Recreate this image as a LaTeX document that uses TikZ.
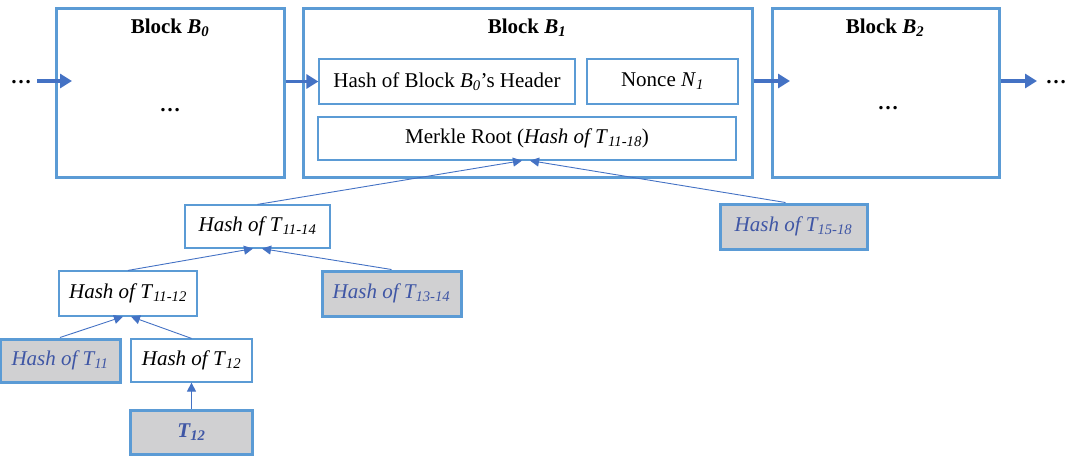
\documentclass[tikz,border=0pt]{standalone}
\usepackage{fontspec}
\setmainfont{Liberation Serif}
\usetikzlibrary{arrows.meta}
\definecolor{bordblue}{RGB}{91,155,213}
\definecolor{arrblue}{RGB}{68,114,196}
\definecolor{boxgray}{RGB}{208,208,210}
\definecolor{txtblue}{RGB}{63,86,165}
\tikzset{
  base/.style={font=\fontsize{21}{25}\selectfont, inner sep=0pt},
  blockbox/.style={base, draw=bordblue, line width=3pt},
  smallbox/.style={base, draw=bordblue, line width=1.2pt, fill=white},
  graybox/.style={base, draw=bordblue, line width=3pt, fill=boxgray, text=txtblue, font=\fontsize{21}{25}\selectfont\itshape},
  bigarrow/.style={draw=arrblue, line width=3.5pt, -{Triangle[length=12pt,width=14pt]}},
  thinarrow/.style={draw=arrblue, line width=0.9pt, -{Triangle[length=9pt,width=9pt]}},
}
\begin{document}
\begin{tikzpicture}[x=1pt,y=-1pt]
\useasboundingbox (0,0) rectangle (1065,456);
% blocks
\node[blockbox, minimum width=228pt, minimum height=169pt] (b0) at (170,92.5) {};
\node[blockbox, minimum width=449pt, minimum height=169pt] (b1) at (527.5,92.5) {};
\node[blockbox, minimum width=227pt, minimum height=169pt] (b2) at (885.5,92.5) {};
\node[base] (t0) at (170,28) {\textbf{Block \textit{B}\textsubscript{\textit{0}}}};
\node[base] (t1) at (527,28) {\textbf{Block \textit{B}\textsubscript{\textit{1}}}};
\node[base] (t2) at (885,28) {\textbf{Block \textit{B}\textsubscript{\textit{2}}}};
\node[base] (d0) at (170,110) {\textbf{\ldots}};
\node[base] (d2) at (888,108) {\textbf{\ldots}};
\node[base] (dl) at (21,82) {\textbf{\ldots}};
\node[base] (dr) at (1056,82) {\textbf{\ldots}};
% header fields
\node[smallbox, minimum width=256pt, minimum height=45pt] (hdr) at (447,81.5) {Hash of Block \textit{B}\textsubscript{\textit{0}}’s Header};
\node[smallbox, minimum width=151pt, minimum height=45pt] (nonce) at (662.5,81.5) {Nonce \textit{N}\textsubscript{\textit{1}}};
\node[smallbox, minimum width=418pt, minimum height=43pt] (mr) at (527,138.5) {Merkle Root (\textit{Hash of T}\textsubscript{\textit{11-18}})};
% tree
\node[smallbox, minimum width=145pt, minimum height=43pt] (h1114) at (257.5,226.5) {\textit{Hash of T}\textsubscript{\textit{11-14}}};
\node[graybox, minimum width=147pt, minimum height=45pt] (h1518) at (793.5,226.5) {Hash of T\textsubscript{15-18}};
\node[smallbox, minimum width=138pt, minimum height=45pt] (h1112) at (128,293.5) {\textit{Hash of T}\textsubscript{\textit{11-12}}};
\node[graybox, minimum width=139pt, minimum height=45pt] (h1314) at (391.5,293.5) {Hash of T\textsubscript{13-14}};
\node[graybox, minimum width=120pt, minimum height=43pt] (h11) at (60,360.5) {Hash of T\textsubscript{11}};
\node[smallbox, minimum width=121pt, minimum height=43pt] (h12) at (191.5,360.5) {\textit{Hash of T}\textsubscript{\textit{12}}};
\node[graybox, minimum width=122pt, minimum height=44pt] (t12) at (191.5,432) {\textbf{T\textsubscript{12}}};
% chain arrows
\coordinate (ls) at (37,81);
\coordinate (le) at (72,81);
\draw[bigarrow] (ls) -- (le);
\draw[bigarrow] (b0.east |- hdr.west) -- (hdr.west);
\coordinate (b2in) at (790,81);
\draw[bigarrow] (b1.east |- b2in) -- (b2in);
\coordinate (rend) at (1037,81);
\draw[bigarrow] (b2.east |- rend) -- (rend);
% tree arrows
\draw[thinarrow] (h1114.north) -- ([xshift=-5pt]mr.south);
\draw[thinarrow] ([xshift=-8pt]h1518.north) -- ([xshift=3pt]mr.south);
\draw[thinarrow] (h1112.north) -- ([xshift=-4.5pt]h1114.south);
\draw[thinarrow] (h1314.north) -- ([xshift=4.5pt]h1114.south);
\draw[thinarrow] (h11.north) -- ([xshift=-5pt]h1112.south);
\draw[thinarrow] (h12.north) -- ([xshift=3pt]h1112.south);
\draw[thinarrow] (t12.north) -- (h12.south);
\end{tikzpicture}
\end{document}
